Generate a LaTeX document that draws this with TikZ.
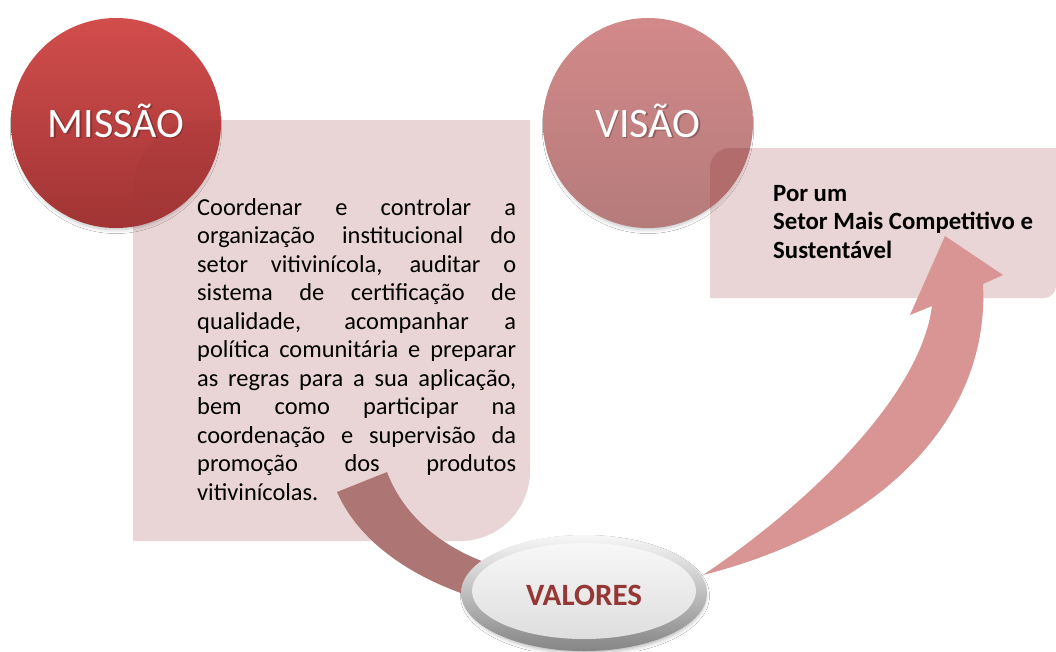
\documentclass[tikz,border=0pt]{standalone}
\usepackage{fontspec}
\setmainfont{Carlito}
\usetikzlibrary{shapes.geometric,shadows.blur}
\definecolor{boxpink}{HTML}{E9D5D5}
\definecolor{mtop}{HTML}{D14D4C}
\definecolor{mbot}{HTML}{A13434}
\definecolor{vtop}{HTML}{D38989}
\definecolor{vbot}{HTML}{B57B7B}
\definecolor{voverlap}{HTML}{B36C6C}
\definecolor{moverlap}{HTML}{A23737}
\definecolor{lbandc}{HTML}{AD7573}
\definecolor{rarrowc}{HTML}{D99594}
\definecolor{valred}{HTML}{953735}
\tikzset{
  pinkbox/.style={fill=boxpink},
  bigcircle/.style={circle, minimum size=210pt, inner sep=0pt,
    blur shadow={shadow xshift=0pt, shadow yshift=-5pt, shadow opacity=25, shadow blur radius=4pt, shadow scale=0.97}},
  mcircle/.style={bigcircle, top color=mtop, bottom color=mbot},
  vcircle/.style={bigcircle, top color=vtop, bottom color=vbot},
  circtext/.style={font=\fontsize{42pt}{46pt}\selectfont, text=white, inner sep=0pt, anchor=base},
  circshadow/.style={circtext, text=black, opacity=0.25},
  lband/.style={fill=lbandc},
  rarrow/.style={fill=rarrowc},
  valouter/.style={ellipse, minimum width=246pt, minimum height=116pt, inner sep=0pt,
    top color=white!97!black, bottom color=black!48,
    blur shadow={shadow xshift=1pt, shadow yshift=-3pt, shadow opacity=30, shadow blur radius=4pt, shadow scale=0.98}},
  valinner/.style={ellipse, minimum width=224pt, minimum height=96pt, inner sep=0pt,
    top color=white!97!black, bottom color=white!87!black},
  bodytext/.style={inner sep=0pt, anchor=base west}
}
\begin{document}
\begin{tikzpicture}[x=1pt,y=-1pt]
\useasboundingbox (0,0) rectangle (1056,651);
\fill[white] (0,0) rectangle (1056,651);

% boxes
\path[pinkbox] (133,541) -- (133,190) .. controls (133,151.3) and (164.3,120) .. (203,120)
  -- (530,120) -- (530,471) .. controls (530,509.7) and (498.7,541) .. (460,541) -- cycle;
\path[pinkbox] (710,298) -- (710,168) .. controls (710,157) and (719,148) .. (730,148)
  -- (1056,148) -- (1056,286) .. controls (1056,292.6) and (1050.6,298) .. (1044,298) -- cycle;

% circles
\node[mcircle] (missao) at (116,123) {};
\node[vcircle] (visao) at (648,123) {};

% overlaps of boxes over circles
\begin{scope}
  \clip (116,123) circle (105pt);
  \fill[moverlap, opacity=0.25] (133,541) -- (133,190) .. controls (133,151.3) and (164.3,120) .. (203,120)
    -- (530,120) -- (530,541) -- cycle;
\end{scope}
\begin{scope}
  \clip (648,123) circle (105pt);
  \fill[voverlap] (710,298) -- (710,168) .. controls (710,157) and (719,148) .. (730,148)
    -- (1056,148) -- (1056,298) -- cycle;
\end{scope}

% circle titles
\node[circshadow] (mshadow) at (117.5,138.5) {MISSÃO};
\node[circtext] (mtitle) at (116,137) {MISSÃO};
\node[circshadow] (vshadow) at (649.5,138.5) {VISÃO};
\node[circtext] (vtitle) at (648,137) {VISÃO};

% left band (mission -> valores)
\path[lband] (337,492) .. controls (360,545) and (420,585) .. (500,605)
  -- (510,570) .. controls (450,555) and (405,520) .. (387,472) -- cycle;

% right curved arrow (valores -> visao)
\path[rarrow] (703,575) .. controls (800,510) and (920,400) .. (932,306)
  -- (910,315) -- (945,236) -- (1003,275) -- (983,284)
  .. controls (990,420) and (880,530) .. (703,575) -- cycle;

% valores ellipse
\node[valouter] (valores) at (584,593) {};
\node[valinner] (valface) at (584,591) {};
\node[inner sep=0pt, anchor=base, text=valred, font=\fontsize{31pt}{34pt}\selectfont\bfseries] (valtext) at (584,605) {VALORES};

% mission text
\node[bodytext] (mtext) at (197,215) {\parbox[t]{319pt}{\fontsize{24.4pt}{28.5pt}\selectfont
\makebox[319pt][s]{Coordenar e controlar a}\\
\makebox[319pt][s]{organização institucional do}\\
\makebox[319pt][s]{setor vitivinícola, auditar o}\\
\makebox[319pt][s]{sistema de certificação de}\\
\makebox[319pt][s]{qualidade, acompanhar a}\\
\makebox[319pt][s]{política comunitária e preparar}\\
\makebox[319pt][s]{as regras para a sua aplicação,}\\
\makebox[319pt][s]{bem como participar na}\\
\makebox[319pt][s]{coordenação e supervisão da}\\
\makebox[319pt][s]{promoção dos produtos}\\
vitivinícolas.}};

% vision text
\node[bodytext] (vtext) at (773,201) {\parbox[t]{285pt}{\fontsize{24.8pt}{28.5pt}\selectfont\bfseries
Por um\\
Setor Mais Competitivo e\\
Sustentável}};
\end{tikzpicture}
\end{document}
